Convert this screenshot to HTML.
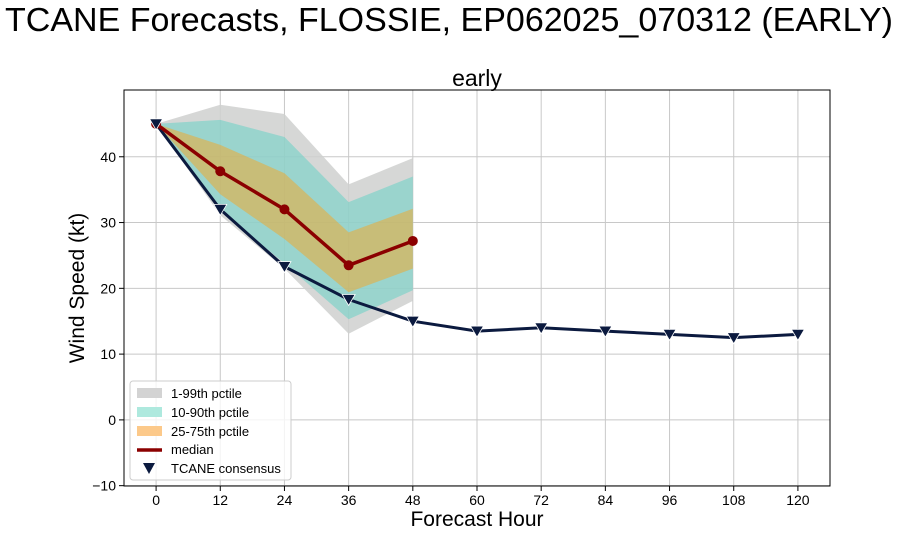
<!DOCTYPE html>
<html><head><meta charset="utf-8"><style>
body{margin:0;background:#fff;}
svg{display:block;font-family:"Liberation Sans","DejaVu Sans",sans-serif;}
</style></head><body>
<svg id="chart" width="900" height="535">
<text x="449" y="31" text-anchor="middle" font-size="33" textLength="888" lengthAdjust="spacingAndGlyphs">TCANE Forecasts, FLOSSIE, EP062025_070312 (EARLY)</text>
<text x="477" y="86" text-anchor="middle" font-size="23">early</text>
<g id="grid"></g><g id="bands"></g><g id="lines"></g><g id="axes"></g>
<text x="477" y="526" text-anchor="middle" font-size="21">Forecast Hour</text>
<text transform="translate(84,288) rotate(-90)" text-anchor="middle" font-size="21">Wind Speed (kt)</text>
<g id="legend">
<rect x="130" y="381" width="161" height="99" rx="3" fill="#fff" fill-opacity="0.8" stroke="#ccc"/>
<rect x="137" y="388" width="25" height="10" fill="#d3d3d3"/>
<text x="171" y="398" font-size="13">1-99th pctile</text>
<rect x="137" y="407" width="25" height="10" fill="#aee9de"/>
<text x="171" y="417" font-size="13">10-90th pctile</text>
<rect x="137" y="426" width="25" height="10" fill="#fcc98a"/>
<text x="171" y="436" font-size="13">25-75th pctile</text>
<line x1="137" y1="450" x2="162" y2="450" stroke="#8b0000" stroke-width="3.5"/>
<text x="171" y="454" font-size="13">median</text>
<path d="M143,463 L155,463 L149,474 Z" fill="#0b1a3f"/>
<text x="171" y="473" font-size="13">TCANE consensus</text>
</g>
</svg>
<script>
const hours=[0,12,24,36,48,60,72,84,96,108,120];
const consensus=[45,32,23.3,18.3,15,13.5,14,13.5,13,12.5,13];
const bandHours=[0,12,24,36,48];
const median=[45,37.8,32,23.5,27.2];
const p99=[45,47.9,46.5,35.8,39.8];
const p01=[45,31.1,23,13.1,18.1];
const p90=[45,45.6,43,33.1,37];
const p10=[45,31.8,23.8,15.3,19.7];
const p75=[45,41.8,37.5,28.5,32.1];
const p25=[45,34.3,27.5,19.4,23];
const xTicks=[0,12,24,36,48,60,72,84,96,108,120];
const yTicks=[-10,0,10,20,30,40];
const L=124,R=830,T=90,B=486,xmin=-6,xmax=126,ymin=-10.05,ymax=50.15;
const X=v=>L+(v-xmin)/(xmax-xmin)*(R-L);
const Y=v=>B-(v-ymin)/(ymax-ymin)*(B-T);
const NS="http://www.w3.org/2000/svg";
function mk(tag,parent,attrs){const e=document.createElementNS(NS,tag);for(const k in attrs)e.setAttribute(k,attrs[k]);document.getElementById(parent).appendChild(e);return e;}
xTicks.forEach(t=>{
 const g=mk('line','grid',{x1:X(t),x2:X(t),y1:T,y2:B,stroke:'#c8c8c8','stroke-width':1});
 
 
 mk('line','axes',{x1:X(t),x2:X(t),y1:B,y2:B+5,stroke:'#000'});
 const tx=mk('text','axes',{x:X(t),y:B+19,'text-anchor':'middle','font-size':14});
 tx.textContent=t;
 
 
});
yTicks.forEach(t=>{
 const g=mk('line','grid',{x1:L,x2:R,y1:Y(t),y2:Y(t),stroke:'#c8c8c8','stroke-width':1});
 
 
 mk('line','axes',{x1:L-5,x2:L,y1:Y(t),y2:Y(t),stroke:'#000'});
 const tx=mk('text','axes',{x:L-8,y:Y(t)+5,'text-anchor':'end','font-size':14});
 tx.textContent=t==-10?'\u221210':t;
 
 
});
const fr=mk('rect','axes',{x:L,y:T,width:R-L,height:B-T,fill:'none',stroke:'#000','stroke-width':1});


function band(lo,hi,fill,op,name){
 let d='';bandHours.forEach((h,i)=>{d+=(i?'L':'M')+X(h)+','+Y(hi[i]);});
 for(let i=bandHours.length-1;i>=0;i--)d+='L'+X(bandHours[i])+','+Y(lo[i]);
 const p=mk('path','bands',{d:d+'Z',fill:fill,'fill-opacity':op});
 
 
}
band(p01,p99,'#cfd0cf',0.85,'band-1-99');
band(p10,p90,'#40d0c0',0.4,'band-10-90');
band(p25,p75,'#f5a623',0.5,'band-25-75');
const cl=mk('polyline','lines',{points:hours.map((h,i)=>X(h)+','+Y(consensus[i])).join(' '),fill:'none',stroke:'#0b1a3f','stroke-width':3});


const ml=mk('polyline','lines',{points:bandHours.map((h,i)=>X(h)+','+Y(median[i])).join(' '),fill:'none',stroke:'#8b0000','stroke-width':3.5});


bandHours.forEach((h,i)=>{
 const c=mk('circle','lines',{cx:X(h),cy:Y(median[i]),r:5,fill:'#8b0000'});
 
 
});
hours.forEach((h,i)=>{
 const x=X(h),y=Y(consensus[i]);
 const p=mk('path','lines',{d:`M${x-6.5},${y-5} L${x+6.5},${y-5} L${x},${y+6} Z`,fill:'#0b1a3f',stroke:'#fff','stroke-width':0.8});
 
 
});
</script>
</body></html>
